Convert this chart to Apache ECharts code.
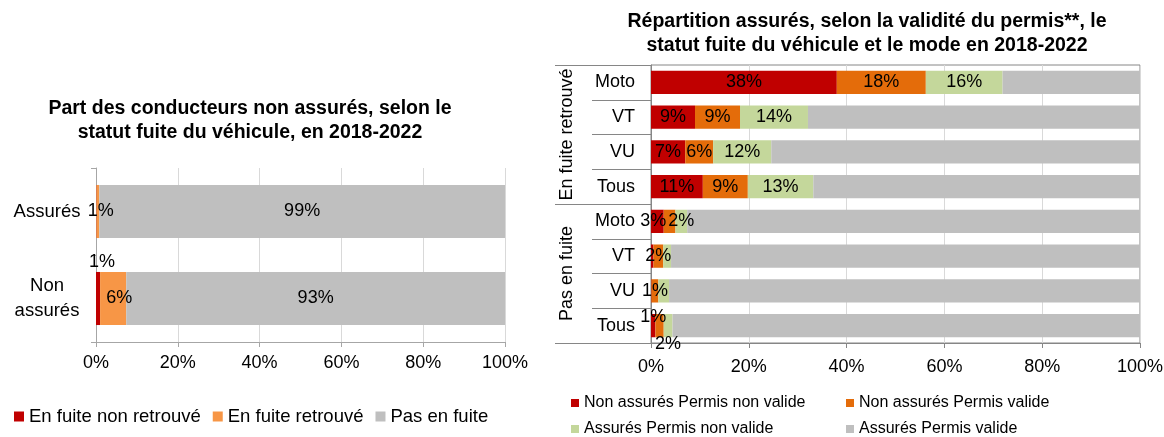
<!DOCTYPE html>
<html>
<head>
<meta charset="utf-8">
<script src="https://cdn.jsdelivr.net/npm/echarts@6/dist/echarts.min.js"></script>
<style>
html, body { margin: 0; padding: 0; background: #fff; }
#chart { width: 1164px; height: 437px; }
</style>
</head>
<body>
<div id="chart"></div>
<script>
// left chart: part des conducteurs non assurés
const statusCategories = ['Assurés', 'Non assurés'];
const fuiteNonRetrouve = [0.1, 1.0];
const fuiteRetrouve = [0.7, 6.4];
const pasEnFuite = [99.2, 92.6];

// right chart: répartition assurés / permis
const groupLabels = ['En fuite retrouvé', 'Pas en fuite'];
const modeCategories = ['Moto', 'VT', 'VU', 'Tous', 'Moto', 'VT', 'VU', 'Tous'];
const naPermisNonValide = [38.0, 9.0, 7.0, 10.6, 2.6, 0.5, 0.1, 0.9];
const naPermisValide = [18.2, 9.2, 5.7, 9.2, 2.4, 2.0, 1.4, 1.7];
const aPermisNonValide = [15.7, 13.9, 11.9, 13.4, 2.4, 1.6, 2.2, 1.8];
const aPermisValide = [28.1, 67.9, 75.4, 66.8, 92.6, 95.9, 96.3, 95.6];

const pctMin = 0, pctMax = 100, pctStep = 20;

// the thin segments: Excel dropped some labels and pushed others aside
const labelTweaks = {
  'left:0:0': { show: false },
  'left:0:1': { position: 'top', distance: 1, offset: [4, 0] },
  'left:1:0': { offset: [3, 0] },
  'left:1:1': { offset: [6, 0] },
  'right:0:4': { offset: [-4, 0] },
  'right:0:5': { show: false },
  'right:0:6': { show: false },
  'right:0:7': { offset: [0, -9] },
  'right:1:4': { show: false },
  'right:1:7': { show: false },
  'right:2:5': { show: false },
  'right:2:6': { show: false },
  'right:2:7': { offset: [0, 18] }
};

function items(values, side, si) {
  return values.map((v, ci) => {
    const t = labelTweaks[side + ':' + si + ':' + ci];
    return t ? { value: v, label: t } : v;
  });
}

const FONT = 'Liberation Sans, Arial, sans-serif';
const pctLabel = { show: true, position: 'inside', color: '#000', fontSize: 18, formatter: p => Math.round(p.value) + '%' };

function bar(name, values, side, si, color, grid, showLabel) {
  return {
    name: name, type: 'bar', stack: side,
    xAxisIndex: grid, yAxisIndex: grid,
    barWidth: side === 'left' ? '61%' : '67%',
    itemStyle: { color: color },
    label: showLabel ? pctLabel : { show: false },
    emphasis: { disabled: true },
    data: items(values, side, si)
  };
}

const chart = echarts.init(document.getElementById('chart'));

const valueAxis = (grid, lineColor, margin) => ({
  type: 'value', gridIndex: grid, min: pctMin, max: pctMax, interval: pctStep,
  axisLine: { show: true, lineStyle: { color: lineColor } },
  axisTick: { show: true, length: 5, lineStyle: { color: lineColor } },
  splitLine: { show: true, lineStyle: { color: '#d9d9d9' } },
  axisLabel: { color: '#000', fontSize: 18, margin: margin, formatter: '{value}%' }
});

const rightLegend = (names, left) => ({
  data: names,
  orient: 'vertical', left: left, top: 395, height: 60, padding: 0, itemGap: 10,
  itemWidth: 8, itemHeight: 8, icon: 'rect',
  textStyle: { fontSize: 16, color: '#000' }
});

chart.setOption({
  animation: false,
  textStyle: { fontFamily: FONT },
  title: [
    {
      text: 'Part des conducteurs non assurés, selon le\nstatut fuite du véhicule, en 2018-2022',
      left: 250, top: 97, padding: 0, textAlign: 'center',
      textStyle: { fontSize: 19.5, fontWeight: 'bold', color: '#000', lineHeight: 24 }
    },
    {
      text: 'Répartition assurés, selon la validité du permis**, le\nstatut fuite du véhicule et le mode en 2018-2022',
      left: 867, top: 10, padding: 0, textAlign: 'center',
      textStyle: { fontSize: 19.5, fontWeight: 'bold', color: '#000', lineHeight: 24 }
    }
  ],
  legend: [
    {
      data: ['En fuite non retrouvé', 'En fuite retrouvé', 'Pas en fuite'],
      left: 14, top: 407, padding: 0, itemGap: 12,
      itemWidth: 10, itemHeight: 10, icon: 'rect',
      textStyle: { fontSize: 18.5, color: '#000' }
    },
    rightLegend(['Non assurés Permis non valide', 'Assurés Permis non valide'], 571),
    rightLegend(['Non assurés Permis valide', 'Assurés Permis valide'], 846)
  ],
  grid: [
    { left: 96, right: 659, top: 168, bottom: 95, outerBoundsMode: 'none' },
    { left: 651, right: 24, top: 65, bottom: 94, outerBoundsMode: 'none',
      show: true, borderColor: '#868686', borderWidth: 1 }
  ],
  xAxis: [
    valueAxis(0, '#a6a6a6', 12),
    valueAxis(1, '#868686', 15)
  ],
  yAxis: [
    {
      type: 'category', gridIndex: 0, inverse: true, data: statusCategories,
      axisLine: { show: true, lineStyle: { color: '#a6a6a6' } },
      axisTick: { show: true, length: 5, lineStyle: { color: '#a6a6a6' } },
      axisLabel: {
        color: '#000', fontSize: 18.5, margin: 49, align: 'center', lineHeight: 25,
        formatter: v => v.replace(' ', '\n')
      }
    },
    {
      type: 'category', gridIndex: 1, position: 'left', inverse: true,
      data: modeCategories.map((m, i) => i + '|' + m),
      axisLine: { show: true, lineStyle: { color: '#868686' } },
      axisTick: { show: true, length: 59, interval: 0, lineStyle: { color: '#868686' } },
      axisLabel: { color: '#000', fontSize: 18, margin: 16, interval: 0, formatter: v => v.split('|')[1] }
    },
    {
      type: 'category', gridIndex: 1, position: 'left', inverse: true, data: groupLabels,
      axisLine: { show: false },
      axisTick: { show: true, length: 96, interval: 0, lineStyle: { color: '#868686' } },
      axisLabel: { color: '#000', fontSize: 18, rotate: 90, margin: 75, interval: 0 }
    }
  ],
  series: [
    bar('En fuite non retrouvé', fuiteNonRetrouve, 'left', 0, '#c00000', 0, true),
    bar('En fuite retrouvé', fuiteRetrouve, 'left', 1, '#f79646', 0, true),
    bar('Pas en fuite', pasEnFuite, 'left', 2, '#bfbfbf', 0, true),
    bar('Non assurés Permis non valide', naPermisNonValide, 'right', 0, '#c00000', 1, true),
    bar('Non assurés Permis valide', naPermisValide, 'right', 1, '#e46c0a', 1, true),
    bar('Assurés Permis non valide', aPermisNonValide, 'right', 2, '#c4d79b', 1, true),
    bar('Assurés Permis valide', aPermisValide, 'right', 3, '#bfbfbf', 1, false)
  ]
});
</script>
</body>
</html>
